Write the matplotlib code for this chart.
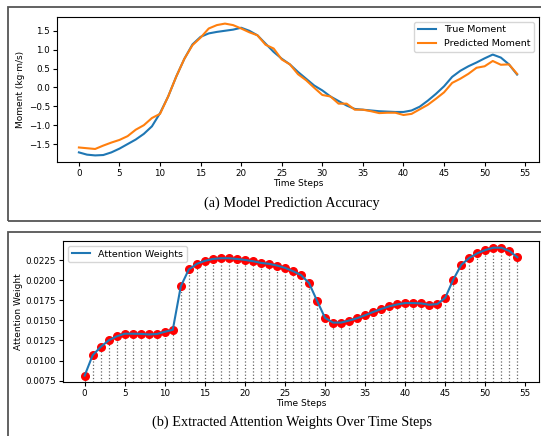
import matplotlib
matplotlib.use("Agg")
from matplotlib import pyplot as plt
from matplotlib.patches import Rectangle
import numpy as np

# moment curves, 55 time steps
true_moment = [-1.72, -1.78, -1.80, -1.79, -1.72, -1.62, -1.50, -1.38, -1.23, -1.03,
               -0.68, -0.24, 0.29, 0.76, 1.14, 1.34, 1.43, 1.47, 1.50, 1.53,
               1.58, 1.50, 1.38, 1.16, 0.94, 0.76, 0.61, 0.41, 0.23, 0.05,
               -0.08, -0.24, -0.36, -0.48, -0.57, -0.59, -0.61, -0.63, -0.64, -0.65,
               -0.65, -0.61, -0.51, -0.35, -0.17, 0.03, 0.28, 0.44, 0.56, 0.66,
               0.77, 0.87, 0.79, 0.61, 0.34]
pred_moment = [-1.59, -1.61, -1.63, -1.54, -1.46, -1.39, -1.29, -1.12, -1.00, -0.81,
               -0.70, -0.24, 0.29, 0.76, 1.12, 1.32, 1.56, 1.65, 1.69, 1.65,
               1.56, 1.46, 1.38, 1.13, 1.03, 0.74, 0.61, 0.35, 0.19, -0.01,
               -0.20, -0.24, -0.43, -0.43, -0.59, -0.59, -0.63, -0.68, -0.67, -0.67,
               -0.73, -0.70, -0.58, -0.46, -0.30, -0.13, 0.12, 0.23, 0.36, 0.52,
               0.56, 0.70, 0.60, 0.61, 0.36]

attn = [0.00812, 0.01066, 0.01169, 0.01251, 0.01301, 0.01334, 0.01334, 0.01332, 0.01325, 0.01330,
        0.01358, 0.01383, 0.01925, 0.02135, 0.02205, 0.02242, 0.02266, 0.02275, 0.02275, 0.02266,
        0.02254, 0.02238, 0.02217, 0.02205, 0.02184, 0.02155, 0.02114, 0.02065, 0.01966, 0.01745,
        0.01531, 0.01473, 0.01473, 0.01498, 0.01527, 0.01564, 0.01605, 0.01642, 0.01675, 0.01699,
        0.01716, 0.01716, 0.01712, 0.01695, 0.01703, 0.01782, 0.02008, 0.02192, 0.02279, 0.02336,
        0.02377, 0.02406, 0.02406, 0.02365, 0.02287]

moment_ticks = [-1.5, -1.0, -0.5, 0.0, 0.5, 1.0, 1.5]
attn_ticks = [0.0075, 0.0100, 0.0125, 0.0150, 0.0175, 0.0200, 0.0225]
step_ticks = [0, 5, 10, 15, 20, 25, 30, 35, 40, 45, 50, 55]

steps = np.arange(len(pred_moment))

W, H = 541, 436
fig = plt.figure(figsize=(W / 100, H / 100), dpi=100)

def fx(px):
    return px / W

def fy(py):
    return 1 - py / H

# framed panels like the composite figure
for (x0, y0, x1, y1) in [(8, 7, 548, 221), (8, 232, 548, 442)]:
    fig.add_artist(Rectangle((fx(x0), fy(y1)), fx(x1 - x0), (y1 - y0) / H,
                             transform=fig.transFigure, fill=False,
                             edgecolor='#555555', linewidth=1.3))

tick_fs = 6.3
label_fs = 6.5
legend_fs = 6.8

ax1 = fig.add_axes([fx(57), fy(162), fx(539 - 57), (162 - 17) / H])
ax1.plot(steps, true_moment, label='True Moment')
ax1.plot(steps, pred_moment, label='Predicted Moment')
ax1.set_xlabel('Time Steps', fontsize=label_fs, labelpad=1)
ax1.set_ylabel('Moment (kg·m/s)', fontsize=label_fs, labelpad=3)
ax1.tick_params(labelsize=tick_fs, length=3, pad=2)
ax1.set_xticks(step_ticks)
ax1.set_yticks(moment_ticks)
ax1.set_xlim(-2.7, 56.7)
ax1.legend(fontsize=legend_fs, loc='upper right')

ax2 = fig.add_axes([fx(63), fy(382), fx(539 - 63), (382 - 241) / H])
ax2.scatter(steps, attn, color='red', s=30, zorder=2)
ax2.plot(steps, attn, label='Attention Weights', zorder=3)
ybot = ax2.get_ylim()[0]
ax2.vlines(steps, ybot, attn, colors='#666666', linestyles=':', linewidth=0.9, zorder=1)
ax2.set_ylim(bottom=ybot)
ax2.set_xlabel('Time Steps', fontsize=label_fs, labelpad=1)
ax2.set_ylabel('Attention Weight', fontsize=label_fs, labelpad=2)
ax2.tick_params(labelsize=tick_fs, length=3, pad=2)
ax2.set_xticks(step_ticks)
ax2.set_yticks(attn_ticks)
ax2.set_yticklabels(['%.4f' % t for t in attn_ticks])
ax2.set_xlim(-2.7, 56.7)
ax2.legend(fontsize=legend_fs, loc='upper left')

fig.text(fx(292), fy(203), '(a) Model Prediction Accuracy', ha='center', va='center',
         fontsize=10.3, family='Liberation Serif')
fig.text(fx(292), fy(422), '(b) Extracted Attention Weights Over Time Steps', ha='center',
         va='center', fontsize=10.3, family='Liberation Serif')

fig.savefig('out.png', dpi=100)
